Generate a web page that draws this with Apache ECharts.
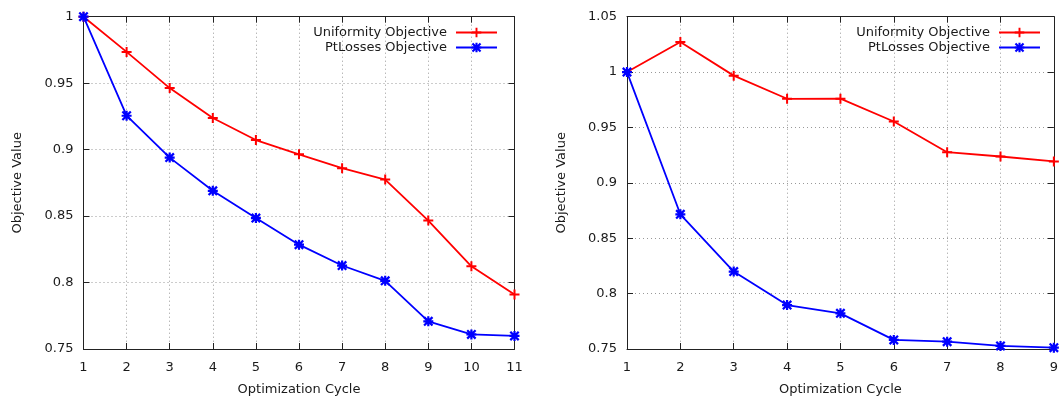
<!DOCTYPE html>
<html>
<head>
<meta charset="utf-8">
<script src="https://cdn.jsdelivr.net/npm/echarts@6/dist/echarts.min.js"></script>
<style>
html,body{margin:0;padding:0;background:#fff;}
#chart{width:1061px;height:401px;}
</style>
</head>
<body>
<div id="chart"></div>
<script>
// ---- data ----
const cyclesLeft = [1, 2, 3, 4, 5, 6, 7, 8, 9, 10, 11];
const uniformityLeft = [1.0, 0.9735, 0.9463, 0.9238, 0.9072, 0.8965, 0.886, 0.8775, 0.8466, 0.8122, 0.7910];
const ptLossesLeft = [1.0, 0.9255, 0.894, 0.869, 0.8485, 0.8285, 0.8128, 0.8013, 0.7708, 0.7610, 0.7598];

const cyclesRight = [1, 2, 3, 4, 5, 6, 7, 8, 9];
const uniformityRight = [1.0, 1.0272, 0.9968, 0.9759, 0.9760, 0.9554, 0.9277, 0.9238, 0.9193];
const ptLossesRight = [1.0, 0.8716, 0.8199, 0.7897, 0.7822, 0.7582, 0.7566, 0.7528, 0.7512];

const seriesNames = ['Uniformity Objective', 'PtLosses Objective'];
const xTitle = 'Optimization Cycle';
const yTitle = 'Objective Value';

// ---- styling ----
const FONT = 'DejaVu Sans';
const TXT = '#1a1a1a';
const FRAME = '#222';
const plusPath = 'path://M4,0H6V4H10V6H6V10H4V6H0V4H4Z';
const starPath = 'path://M3.9,0H6.1V3.9H10V6.1H6.1V10H3.9V6.1H0V3.9H3.9Z M0,1.6L1.6,0L10,8.4L8.4,10Z M8.4,0L10,1.6L1.6,10L0,8.4Z';

function pairs(xs, ys) { return xs.map((x, i) => [x, ys[i]]); }

function xAxes(gi, max) {
  return [
    {
      type: 'value', gridIndex: gi, min: 1, max: max, interval: 1, position: 'bottom',
      name: xTitle, nameLocation: 'middle', nameGap: 34,
      nameTextStyle: { fontFamily: FONT, fontSize: 13, color: TXT },
      axisLine: { show: true, onZero: false, lineStyle: { color: FRAME, width: 1 } },
      axisTick: { show: true, inside: true, length: 6, lineStyle: { color: FRAME } },
      axisLabel: { fontFamily: FONT, fontSize: 13, color: TXT, margin: 12, showMinLabel: true, showMaxLabel: true },
      splitLine: { show: true, lineStyle: { color: '#999', type: [1, 3], width: 1 } }
    },
    {
      type: 'value', gridIndex: gi, min: 1, max: max, interval: 1, position: 'top',
      axisLine: { show: true, onZero: false, lineStyle: { color: FRAME, width: 1 } },
      axisTick: { show: true, inside: true, length: 6, lineStyle: { color: FRAME } },
      axisLabel: { show: false },
      splitLine: { show: false }
    }
  ];
}

function yAxes(gi, max) {
  return [
    {
      type: 'value', gridIndex: gi, min: 0.75, max: max, interval: 0.05, position: 'left',
      name: yTitle, nameLocation: 'middle', nameGap: 59, nameRotate: 90,
      nameTextStyle: { fontFamily: FONT, fontSize: 13, color: TXT },
      axisLine: { show: true, onZero: false, lineStyle: { color: FRAME, width: 1 } },
      axisTick: { show: true, inside: true, length: 6, lineStyle: { color: FRAME } },
      axisLabel: { fontFamily: FONT, fontSize: 13, color: TXT, margin: 10, showMinLabel: true, showMaxLabel: true },
      splitLine: { show: true, lineStyle: { color: '#999', type: [1, 3], width: 1 } }
    },
    {
      type: 'value', gridIndex: gi, min: 0.75, max: max, interval: 0.05, position: 'right',
      axisLine: { show: true, onZero: false, lineStyle: { color: FRAME, width: 1 } },
      axisTick: { show: true, inside: true, length: 6, lineStyle: { color: FRAME } },
      axisLabel: { show: false },
      splitLine: { show: false }
    }
  ];
}

function lineSeries(name, data, xi, yi, color, symbol) {
  return {
    name: name, type: 'line', xAxisIndex: xi, yAxisIndex: yi,
    data: data, symbol: symbol, symbolSize: 10, showSymbol: true,
    lineStyle: { color: color, width: 1.8 },
    itemStyle: { color: color },
    animation: false, z: 3
  };
}

function legend(rightPx) {
  return {
    orient: 'vertical', align: 'right', right: rightPx, top: 26, padding: 0,
    itemWidth: 41, itemHeight: 12, itemGap: 2,
    data: seriesNames,
    textStyle: { fontFamily: FONT, fontSize: 13, color: TXT, padding: [0, 4, 0, 0] },
    selectedMode: false
  };
}

const chart = echarts.init(document.getElementById('chart'), null, { renderer: 'canvas' });
chart.setOption({
  backgroundColor: '#fff',
  animation: false,
  grid: [
    { left: 83.5, top: 16.7, width: 431, height: 333.3, containLabel: false },
    { left: 627, top: 16.7, width: 430.5, height: 333.3, containLabel: false }
  ],
  xAxis: [...xAxes(0, 11), ...xAxes(1, 9)],
  yAxis: [...yAxes(0, 1.0), ...yAxes(1, 1.05)],
  legend: [legend(563), legend(20)],
  series: [
    lineSeries(seriesNames[0], pairs(cyclesLeft, uniformityLeft), 0, 0, '#ff0000', plusPath),
    lineSeries(seriesNames[1], pairs(cyclesLeft, ptLossesLeft), 0, 0, '#0000ff', starPath),
    lineSeries(seriesNames[0], pairs(cyclesRight, uniformityRight), 2, 2, '#ff0000', plusPath),
    lineSeries(seriesNames[1], pairs(cyclesRight, ptLossesRight), 2, 2, '#0000ff', starPath)
  ]
});
</script>
</body>
</html>
